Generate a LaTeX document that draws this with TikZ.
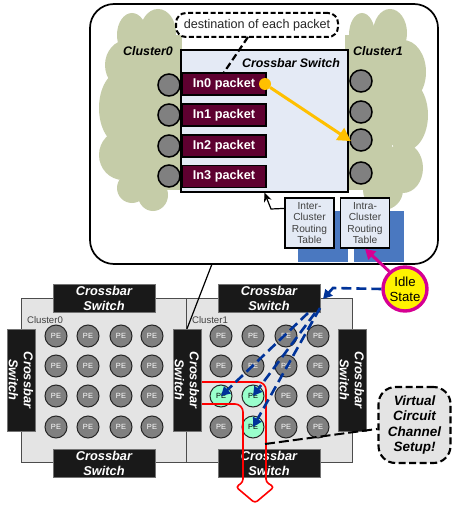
\documentclass[tikz,border=0pt]{standalone}
\usepackage{fontspec}
\setmainfont{Liberation Sans}
\usetikzlibrary{shapes, arrows.meta, positioning, calc}
\definecolor{blobgreen}{RGB}{197, 204, 168}
\definecolor{paleblue}{RGB}{228, 234, 245}
\definecolor{pktred}{RGB}{94, 0, 48}
\definecolor{tabblue}{RGB}{74, 120, 192}
\definecolor{pegray}{RGB}{128, 128, 128}
\definecolor{meshgray}{RGB}{228, 228, 228}
\definecolor{pegreen}{RGB}{153, 255, 204}
\definecolor{pathblue}{RGB}{0, 51, 153}
\definecolor{idlepink}{RGB}{214, 0, 147}
\definecolor{goldline}{RGB}{255, 192, 0}

\begin{document}
\begin{tikzpicture}[
  x=1pt, y=-1pt,
  blob/.style={fill=blobgreen},
  mainbox/.style={draw=black, line width=1.7pt, fill=white, rounded corners=24pt, minimum width=348pt, minimum height=260pt, inner sep=0pt},
  swbox/.style={draw=black, line width=1.5pt, fill=paleblue, minimum width=167pt, minimum height=142pt, inner sep=0pt},
  pktbox/.style={draw=black, line width=1.2pt, fill=pktred, text=white, minimum width=84pt, minimum height=22pt, inner sep=0pt, font=\fontsize{12.7}{14}\selectfont\bfseries},
  portdot/.style={circle, draw=black, line width=1.5pt, fill=pegray, minimum size=22pt, inner sep=0pt},
  tabbox/.style={draw=black, line width=1.5pt, fill=paleblue, minimum width=49pt, minimum height=50pt, inner sep=0pt, align=center, font=\fontsize{10.2}{11.4}\selectfont, text=black!75},
  backbox/.style={fill=tabblue, minimum width=50pt, minimum height=51pt, inner sep=0pt},
  destbox/.style={draw=black, dash pattern=on 5pt off 2.5pt, line width=2pt, fill=white, rounded corners=10pt, minimum width=162pt, minimum height=24pt, inner sep=0pt, font=\fontsize{12.6}{14}\selectfont, text=black!85},
  tag/.style={font=\fontsize{12.4}{14}\selectfont\bfseries\itshape, inner sep=0pt},
  meshbox/.style={draw=black!70, line width=0.9pt, fill=meshgray, minimum width=165.5pt, minimum height=164pt, inner sep=0pt},
  xbar/.style={fill=black!90, draw=black!55, line width=0.5pt, text=white, minimum width=102pt, minimum height=28pt, inner sep=0pt, align=center, font=\fontsize{12.8}{14.9}\selectfont\bfseries\itshape},
  penode/.style={circle, draw=black!85, line width=1pt, fill=pegray, text=white, minimum size=22pt, inner sep=0pt, font=\fontsize{7.5}{8}\selectfont},
  pelive/.style={penode, fill=pegreen, text=black},
  meshtag/.style={font=\fontsize{9.6}{11}\selectfont, text=black!75, inner sep=0pt},
  vpath/.style={draw=pathblue, dash pattern=on 10pt off 5pt, line width=2.6pt, -{Triangle[length=9pt, width=9.5pt]}},
  redline/.style={draw=red, line width=1.6pt, rounded corners=3pt},
  vcbox/.style={draw=black, dash pattern=on 7pt off 3.5pt, line width=2.1pt, fill=meshgray, rounded corners=17pt, minimum width=72pt, minimum height=76pt, inner sep=0pt, align=center, font=\fontsize{13.5}{15.3}\selectfont\bfseries\itshape},
  idlebox/.style={circle, draw=idlepink, line width=3.4pt, fill=yellow, minimum size=44pt, inner sep=0pt, align=center, font=\fontsize{13.2}{15}\selectfont}
]
  \useasboundingbox (0, 0) rectangle (451, 508);

  \node[mainbox] (main) at (264, 134) {};

  \fill[blob] (132, 35) ellipse (15 and 22);
  \fill[blob] (158, 33) ellipse (18 and 24);
  \fill[blob] (127, 65) ellipse (22 and 25);
  \fill[blob] (120, 108) ellipse (21 and 36);
  \fill[blob] (123, 155) ellipse (24 and 25);
  \fill[blob] (132, 188) ellipse (15 and 15);
  \fill[blob] (153, 195) ellipse (15 and 16);
  \fill[blob] (125, 35) rectangle (182, 190);

  \fill[blob] (362, 35) ellipse (13 and 22);
  \fill[blob] (390, 33) ellipse (17 and 24);
  \fill[blob] (403, 72) ellipse (23 and 32);
  \fill[blob] (405, 115) ellipse (23 and 36);
  \fill[blob] (403, 168) ellipse (20 and 25);
  \fill[blob] (383, 190) ellipse (20 and 20);
  \fill[blob] (345, 35) rectangle (392, 190);

  \node[backbox] (backA) at (323, 236.5) {};
  \node[backbox] (backB) at (378.5, 236.5) {};

  \node[swbox] (sw) at (264.5, 121) {};
  \node[tag] (swtag) at (291, 63) {Crossbar Switch};
  \node[tag] (tag0) at (148, 51) {Cluster0};
  \node[tag] (tag1) at (378, 51) {Cluster1};

  \node[pktbox] (in0) at (224, 84) {In0 packet};
  \node[pktbox] (in1) at (224, 115) {In1 packet};
  \node[pktbox] (in2) at (224, 146) {In2 packet};
  \node[pktbox] (in3) at (224, 176.5) {In3 packet};

  \node[portdot] (la) at (169, 85) {};
  \node[portdot] (lb) at (169, 115) {};
  \node[portdot] (lc) at (169, 146) {};
  \node[portdot] (ld) at (169, 176) {};
  \node[portdot] (ra) at (361, 81) {};
  \node[portdot] (rb) at (361, 112) {};
  \node[portdot] (rc) at (361, 140) {};
  \node[portdot] (rd) at (361, 173) {};

  \node[circle, fill=goldline, minimum size=12pt, inner sep=0pt] (golddot) at (265, 84) {};
  \draw[goldline, line width=3pt, -{Triangle[length=13pt, width=14pt]}, shorten >=-2pt] (golddot) -- (rc.west);

  \node[destbox] (dest) at (257, 25) {destination of each packet};
  \coordinate (destfoot) at (248, 37);
  \draw[black, dash pattern=on 7pt off 3.5pt, line width=2.2pt] (destfoot) -- (in0.north);

  \node[tabbox] (inter) at (309.5, 223) {Inter-\\Cluster\\Routing\\Table};
  \node[tabbox] (intra) at (365, 223) {Intra-\\Cluster\\Routing\\Table};
  \coordinate (interbend) at (271, 209);
  \draw[black, line width=1.2pt, -{Stealth[length=9pt, width=8pt]}] (inter.150) -- (interbend) -- (sw.south);

  \node[meshbox] (mesh0) at (104, 380) {};
  \node[meshbox] (mesh1) at (269.5, 380) {};
  \node[meshtag] (mtag0) at (45, 320.5) {Cluster0};
  \node[meshtag] (mtag1) at (210, 320.5) {Cluster1};

  \node[penode] (pa1) at (56, 336) {PE};
  \node[penode] (pa2) at (88, 336) {PE};
  \node[penode] (pa3) at (121, 336) {PE};
  \node[penode] (pa4) at (152, 336) {PE};
  \node[penode] (pb1) at (56, 366) {PE};
  \node[penode] (pb2) at (88, 366) {PE};
  \node[penode] (pb3) at (121, 366) {PE};
  \node[penode] (pb4) at (152, 366) {PE};
  \node[penode] (pc1) at (56, 396) {PE};
  \node[penode] (pc2) at (88, 396) {PE};
  \node[penode] (pc3) at (121, 396) {PE};
  \node[penode] (pc4) at (152, 396) {PE};
  \node[penode] (pd1) at (56, 427) {PE};
  \node[penode] (pd2) at (88, 427) {PE};
  \node[penode] (pd3) at (121, 427) {PE};
  \node[penode] (pd4) at (152, 427) {PE};

  \node[penode] (qa1) at (221, 336) {PE};
  \node[penode] (qa2) at (253, 336) {PE};
  \node[penode] (qa3) at (286, 336) {PE};
  \node[penode] (qa4) at (318, 336) {PE};
  \node[penode] (qb1) at (221, 366) {PE};
  \node[penode] (qb2) at (253, 366) {PE};
  \node[penode] (qb3) at (286, 366) {PE};
  \node[penode] (qb4) at (318, 366) {PE};
  \node[pelive] (qc1) at (221, 396) {PE};
  \node[pelive] (qc2) at (253, 396) {PE};
  \node[penode] (qc3) at (286, 396) {PE};
  \node[penode] (qc4) at (318, 396) {PE};
  \node[penode] (qd1) at (221, 427) {PE};
  \node[pelive] (qd2) at (253, 427) {PE};
  \node[penode] (qd3) at (286, 427) {PE};
  \node[penode] (qd4) at (318, 427) {PE};

  \node[xbar] (xtop0) at (104, 298) {Crossbar\\Switch};
  \node[xbar] (xbot0) at (104, 463.5) {Crossbar\\Switch};
  \node[xbar, rotate=-90] (xleft0) at (21, 380) {Crossbar\\Switch};
  \node[xbar, rotate=-90] (xmid) at (187, 380) {Crossbar\\Switch};
  \node[xbar] (xtop1) at (269, 298) {Crossbar\\Switch};
  \node[xbar] (xbot1) at (269, 463.5) {Crossbar\\Switch};
  \node[xbar, rotate=-90] (xright1) at (352, 380) {Crossbar\\Switch};

  \coordinate (zoomfoot) at (212, 264);
  \draw[black, line width=1.2pt] (zoomfoot) -- (xmid.west);

  \draw[redline] (202, 382) [rounded corners=8pt] -- (266, 382) [rounded corners=3pt] -- (266, 482) -- (274, 487) -- (255, 503) -- (236, 487) -- (243, 482) [rounded corners=8pt] -- (243, 404) -- (202, 404);

  \coordinate (srcA) at (308, 313);
  \coordinate (srcB) at (315, 313);
  \coordinate (srcC) at (320, 308);
  \draw[vpath] (srcA) -- (qc1.center);
  \draw[vpath] (srcB) -- (qc2.center);
  \draw[vpath] (srcC) -- (qd2.center);

  \node[idlebox] (idle) at (405, 289) {Idle\\State};
  \coordinate (idlebend) at (333, 288);
  \coordinate (idletip) at (323, 299);
  \draw[vpath] (idle.west) -- (idlebend) -- (idletip);
  \draw[idlepink, line width=3pt, -{Triangle[length=10pt, width=11pt]}] (idle.132) -- (intra.south);

  \node[vcbox] (vc) at (414.5, 425) {Virtual\\Circuit\\Channel\\Setup!};
  \coordinate (vcfoot) at (265, 444);
  \draw[black, dash pattern=on 10pt off 4pt, line width=2pt] (vcfoot) -- (vc.186);
\end{tikzpicture}
\end{document}
